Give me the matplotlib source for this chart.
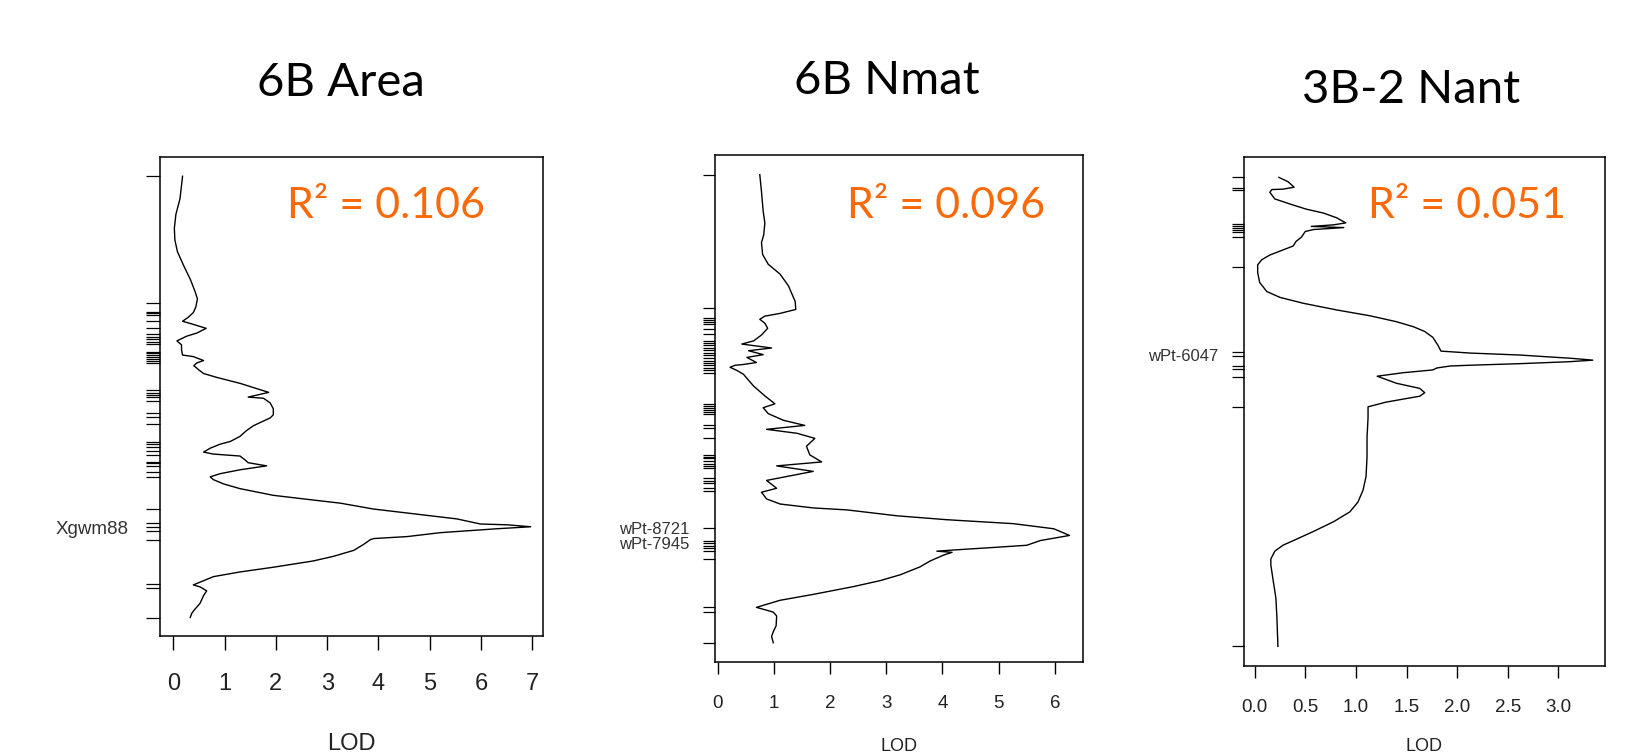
import numpy as np
import matplotlib
matplotlib.use("Agg")
import matplotlib.pyplot as plt

# --- Daten: LOD-Kurven entlang der Chromosomen (Position in cM, von oben nach unten)

# 6B Area
area_cm = [0.0, 5.7, 9.7, 13.2, 16.2, 19.2, 22.7, 26.2, 29.2, 31.2, 33.2, 34.7, 35.9, 36.9,
           37.7, 38.7, 39.9, 40.7, 41.9, 42.9, 44.2, 45.5, 45.9, 46.9, 47.5, 48.2, 49.2, 50.2,
           51.2, 52.7, 55.0, 56.2, 56.5, 57.7, 59.2, 60.7, 61.5, 62.7, 63.5, 64.7, 66.2, 67.5,
           68.2, 69.2, 70.2, 70.7, 71.2, 72.2, 72.9, 73.7, 74.7, 75.7, 76.5, 77.2, 78.3, 79.5,
           81.2, 82.2, 83.2, 84.7, 85.7, 87.2, 88.5, 88.7, 89.2, 89.7, 90.7, 91.7, 92.2, 92.5,
           93.7, 95.2, 96.7, 97.9, 99.5, 100.7, 101.9, 104.0, 104.5, 105.5, 106.7, 108.7, 110.2,
           111.2, 112.3]
area_lod = [0.18, 0.13, 0.05, 0.02, 0.03, 0.08, 0.20, 0.33, 0.42, 0.47, 0.44, 0.39, 0.29, 0.18,
            0.39, 0.64, 0.46, 0.26, 0.07, 0.16, 0.16, 0.18, 0.39, 0.59, 0.46, 0.40, 0.49, 0.59,
            0.85, 1.30, 1.86, 1.46, 1.76, 1.89, 1.95, 1.95, 1.89, 1.69, 1.56, 1.43, 1.30, 1.11,
            0.91, 0.72, 0.59, 0.78, 1.30, 1.40, 1.46, 1.82, 1.30, 0.91, 0.72, 0.78, 0.98, 1.30,
            1.95, 2.60, 3.26, 3.91, 4.56, 5.53, 5.99, 6.51, 6.97, 6.32, 5.21, 4.56, 3.91, 3.84,
            3.71, 3.52, 3.13, 2.73, 1.95, 1.30, 0.78, 0.39, 0.52, 0.65, 0.59, 0.52, 0.42,
            0.36, 0.33]
area_markers = [0.0, 32.2, 34.5, 34.9, 35.3, 36.8, 38.5, 40.1, 40.8, 41.5, 42.2, 42.8, 44.6,
                45.1, 45.5, 45.9, 46.4, 46.9, 47.6, 54.4, 55.1, 55.7, 56.3, 57.1, 60.2, 61.2,
                63.1, 67.7, 68.2, 68.8, 69.9, 70.9, 72.7, 73.1, 73.7, 75.2, 76.5, 84.7, 88.2,
                89.2, 90.2, 92.5, 103.7, 104.9, 112.3]
area_names = ["Xgwm88"]
area_name_cm = [90.0]

# 6B Nmat
nmat_cm = [0.0, 4.3, 9.3, 12.3, 15.3, 17.3, 20.3, 22.8, 25.3, 28.3, 32.3, 34.3, 35.3, 36.0,
           36.8, 37.8, 39.1, 40.8, 42.3, 43.1, 43.5, 44.1, 44.8, 45.8, 46.5, 47.8, 48.3, 48.5,
           49.0, 49.8, 50.8, 53.8, 56.3, 58.3, 59.3, 60.8, 62.5, 63.8, 64.8, 65.8, 67.1, 69.1,
           71.3, 73.1, 74.1, 75.5, 77.8, 79.8, 80.8, 82.5, 83.8, 84.8, 85.3, 86.8, 87.8, 88.8,
           90.1, 91.8, 93.1, 94.3, 94.8, 95.5, 95.8, 96.1, 96.8, 98.3, 99.8, 101.8, 103.3,
           104.8, 106.8, 108.3, 110.1, 111.3, 112.3, 114.8, 116.3, 117.5, 119.1]
nmat_lod = [0.75, 0.78, 0.81, 0.84, 0.82, 0.78, 0.80, 0.90, 1.11, 1.26, 1.38, 1.39, 1.11, 0.84,
            0.75, 0.84, 0.89, 0.78, 0.64, 0.43, 0.64, 0.96, 0.55, 0.81, 0.52, 0.69, 0.46, 0.31,
            0.22, 0.34, 0.46, 0.64, 0.84, 1.02, 0.81, 0.90, 1.17, 1.55, 0.87, 1.41, 1.73, 1.58,
            1.64, 1.85, 1.05, 1.70, 0.87, 1.05, 0.78, 0.87, 1.11, 1.70, 2.30, 3.19, 4.08, 5.26,
            5.98, 6.26, 5.74, 5.50, 4.97, 4.20, 3.90, 4.17, 4.02, 3.78, 3.60, 3.25, 2.89,
            2.42, 1.70, 1.11, 0.69, 0.99, 1.05, 1.04, 0.99, 0.96, 0.99]
nmat_markers = [0.0, 34.0, 36.6, 37.1, 37.5, 37.9, 39.2, 40.5, 42.3, 42.9, 43.4, 44.0, 44.7,
                45.3, 45.9, 46.6, 47.3, 47.8, 48.4, 49.1, 49.8, 50.4, 58.4, 58.8, 59.3, 59.8,
                60.3, 60.8, 63.7, 64.5, 66.9, 71.4, 71.8, 72.2, 72.8, 73.5, 74.1, 74.7, 77.2,
                77.9, 78.5, 79.8, 80.4, 90.0, 93.1, 93.8, 94.4, 95.1, 95.8, 97.8, 110.1, 111.3,
                119.1]
nmat_names = ["wPt-8721", "wPt-7945"]
nmat_name_cm = [90.3, 94.0]

# 3B-2 Nant
nant_cm = [0.0, 1.1, 2.5, 3.0, 3.1, 3.8, 5.5, 6.8, 8.1, 9.1, 10.3, 11.6, 12.1, 12.5, 12.8, 13.3,
           13.8, 15.3, 16.3, 17.5, 18.5, 19.8, 21.0, 22.3, 24.3, 26.8, 29.1, 30.6, 32.1, 33.8,
           35.3, 36.8, 38.1, 39.3, 40.8, 42.8, 44.3, 44.8, 45.3, 45.8, 46.1, 46.6, 47.0, 47.5,
           47.9, 48.1, 48.6, 49.1, 49.8, 50.7, 52.5, 53.8, 54.9, 55.8, 57.3, 58.5, 61.3, 66.3,
           71.3, 76.3, 79.8, 82.8, 85.3, 87.8, 90.3, 92.3, 93.8, 95.3, 97.3, 98.8, 102.3, 107.3,
           112.3, 119.6]
nant_lod = [0.24, 0.33, 0.39, 0.28, 0.17, 0.15, 0.20, 0.35, 0.51, 0.68, 0.81, 0.90, 0.78, 0.56,
            0.88, 0.58, 0.50, 0.46, 0.41, 0.38, 0.28, 0.15, 0.07, 0.03, 0.03, 0.05, 0.12, 0.25,
            0.48, 0.81, 1.14, 1.40, 1.57, 1.68, 1.76, 1.81, 1.84, 2.13, 2.62, 2.92, 3.11, 3.34,
            3.11, 2.62, 2.13, 1.93, 1.80, 1.76, 1.47, 1.21, 1.40, 1.63, 1.68, 1.63, 1.30, 1.12,
            1.12, 1.11, 1.11, 1.10, 1.07, 1.02, 0.94, 0.78, 0.58, 0.41, 0.28, 0.20, 0.16, 0.16,
            0.18, 0.21, 0.22, 0.23]
nant_markers = [0.0, 2.8, 3.1, 11.8, 12.3, 12.8, 13.3, 13.8, 15.3, 22.8, 44.5, 45.5, 48.1,
                48.8, 50.8, 58.5, 119.6]
nant_names = ["wPt-6047"]
nant_name_cm = [45.8]

titles = ["6B Area", "6B Nmat", "3B-2 Nant"]
r2_texts = ["R\u00b2 = 0.106", "R\u00b2 = 0.096", "R\u00b2 = 0.051"]

W, H = 1627, 755
fig = plt.figure(figsize=(W / 100, H / 100), dpi=100)
fig.patch.set_facecolor("white")

ORANGE = "#FA6A0A"
CAL = ["Lato", "DejaVu Sans"]
ARIAL = ["Liberation Sans", "DejaVu Sans"]


def px_axes(l, t, r, b):
    return fig.add_axes([l / W, 1 - b / H, (r - l) / W, (b - t) / H])


def panel(box, cm, lod, markers, names, name_cm, xlim, ylim, xticks, xlabels,
          fs, namefs, ticklen, pad, name_off):
    ax = px_axes(*box)
    ax.plot(lod, cm, "-", color="black", lw=1.0)
    ax.set_xlim(*xlim)
    ax.set_ylim(*ylim)  # umgedreht: 0 cM oben
    ax.set_xticks(xticks)
    ax.set_xticklabels(xlabels, family=ARIAL, fontsize=fs, color="#222222")
    ax.set_yticks(markers)
    ax.set_yticklabels([])
    ax.tick_params(axis="x", length=ticklen, width=1.0, pad=pad, direction="out")
    ax.tick_params(axis="y", length=ticklen, width=0.9, direction="out")
    for s in ax.spines.values():
        s.set_linewidth(1.1)
    for n, c in zip(names, name_cm):
        ax.annotate(n, xy=(0, c), xycoords=("axes fraction", "data"),
                    xytext=(name_off, 0), textcoords="offset pixels",
                    ha="right", va="center", family=ARIAL, fontsize=namefs,
                    color="#333333")
    return ax


panel((160, 157, 543, 636), area_cm, area_lod, area_markers, area_names, area_name_cm,
      (-0.26, 7.21), (117.0, -4.9), range(8), [str(i) for i in range(8)],
      17, 13.5, 10, 17, -31)
panel((715, 155, 1083, 662), nmat_cm, nmat_lod, nmat_markers, nmat_names, nmat_name_cm,
      (-0.047, 6.50), (124.0, -5.0), range(7), [str(i) for i in range(7)],
      13.5, 12, 8.6, 15, -26)
xt3 = [0.0, 0.5, 1.0, 1.5, 2.0, 2.5, 3.0]
panel((1244, 157, 1605, 666), nant_cm, nant_lod, nant_markers, nant_names, nant_name_cm,
      (-0.105, 3.46), (124.6, -5.2), xt3, ["%.1f" % v for v in xt3],
      13.5, 12, 8.6, 15, -26)

# Titel, R²-Werte und Achsenbeschriftung (LOD) – im Original ganz am unteren Rand
title_pos = [(341, 83), (887, 81), (1411, 90)]
r2_pos = [(386, 206), (946, 206), (1467, 206)]
lod_pos = [(351, 733, 17), (899, 738, 13), (1424, 738, 13)]

for t, (x, y) in zip(titles, title_pos):
    fig.text(x / W, 1 - y / H, t, ha="center", va="center", family=CAL, fontsize=34)
for t, (x, y) in zip(r2_texts, r2_pos):
    fig.text(x / W, 1 - y / H, t, ha="center", va="center", family=CAL, fontsize=31,
             color=ORANGE)
for x, y, f in lod_pos:
    fig.text(x / W, 1 - y / H, "LOD", ha="center", va="top", family=ARIAL, fontsize=f,
             color="#222222")

fig.savefig("out.png", dpi=100)
